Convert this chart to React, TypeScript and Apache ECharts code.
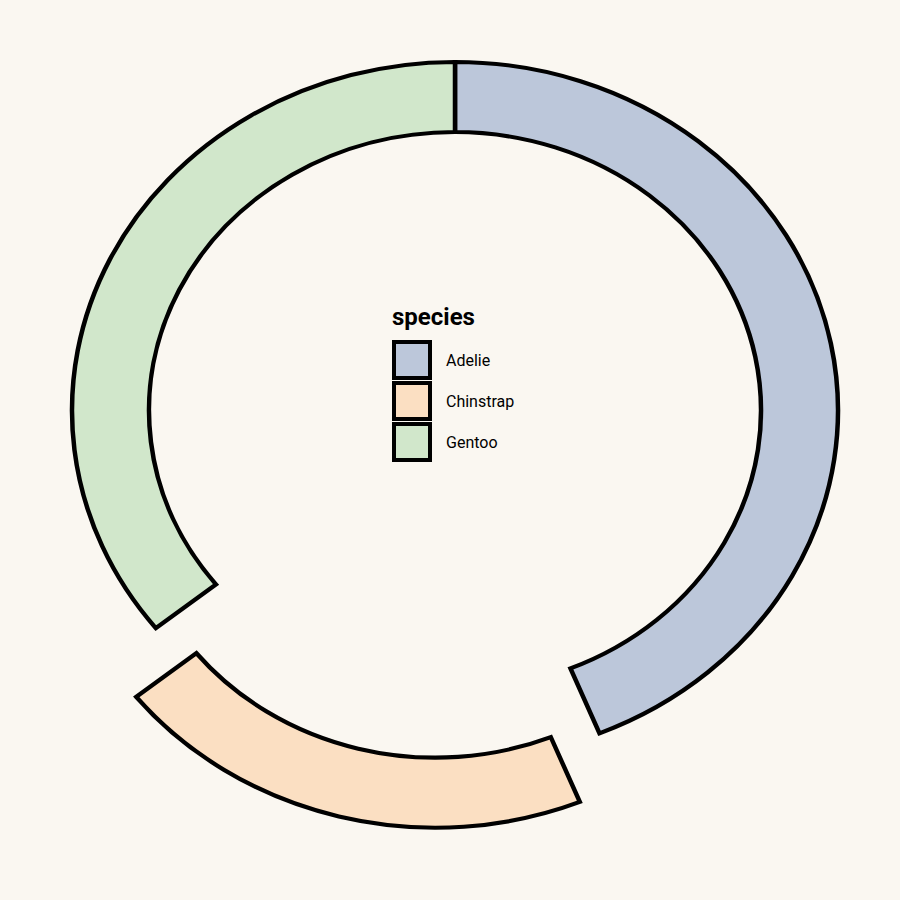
import React, { useEffect, useRef } from 'react';
import * as echarts from 'echarts';

const species = ['Adelie', 'Chinstrap', 'Gentoo'];
const counts = [146, 68, 119];
const colors = ['#bcc7da', '#fbdfc2', '#d1e7cb'];
const explodedSpecies = ['Chinstrap'];
const legendTitle = 'species';

export default function App() {
  const ref = useRef<HTMLDivElement>(null);
  useEffect(() => {
    const chart = echarts.init(ref.current!, null, { renderer: 'svg' });
    const total = counts.reduce((a, b) => a + b, 0);
    const cx = 455, cy = 410.5, R = 383, R0 = 306, sy = 0.91, dist = 78;
    const starts = counts.map((_, i) => counts.slice(0, i).reduce((a, b) => a + b, 0));

    const series = species.map((name, i) => ({
      type: 'custom',
      name,
      coordinateSystem: 'none',
      data: [[counts[i]]],
      itemStyle: { color: colors[i] },
      renderItem: (params: any, api: any) => {
        const v = api.value(0);
        const a0 = (starts[i] / total) * Math.PI * 2;
        const a1 = a0 + (v / total) * Math.PI * 2;
        const mid = (a0 + a1) / 2;
        const d = explodedSpecies.includes(name) ? dist : 0;
        const ox = Math.sin(mid) * d;
        const oy = -Math.cos(mid) * d;
        return {
          type: 'group',
          x: cx,
          y: cy,
          scaleY: sy,
          children: [
            {
              type: 'sector',
              shape: {
                cx: ox,
                cy: oy,
                r: R,
                r0: R0,
                startAngle: a0 - Math.PI / 2,
                endAngle: a1 - Math.PI / 2,
                clockwise: true,
              },
              style: {
                fill: colors[i],
                stroke: '#000',
                lineWidth: 4.5,
                strokeNoScale: true,
                lineJoin: 'miter',
              },
            },
          ],
        };
      },
    }));

    const lx = 394, ly0 = 342, box = 36, pitch = 41;
    const legendEls: any[] = [
      {
        type: 'text',
        left: 392,
        top: 305,
        style: {
          text: legendTitle,
          font: 'bold 24px Roboto',
          fill: '#000',
        },
      },
    ];
    species.forEach((name, i) => {
      legendEls.push({
        type: 'rect',
        shape: { x: lx, y: ly0 + i * pitch, width: box, height: box },
        style: { fill: colors[i], stroke: '#000', lineWidth: 4 },
      });
      legendEls.push({
        type: 'text',
        x: 446,
        y: ly0 + i * pitch + box / 2,
        style: {
          text: name,
          font: '16px Roboto',
          fill: '#000',
          verticalAlign: 'middle',
          align: 'left',
        },
      });
    });

    chart.setOption({
      animation: false,
      backgroundColor: '#faf7f1',
      series,
      graphic: legendEls,
    });
    return () => chart.dispose();
  }, []);
  return (
    <div
      ref={ref}
      style={{ position: 'fixed', left: 0, top: 0, width: 900, height: 900 }}
    />
  );
}
